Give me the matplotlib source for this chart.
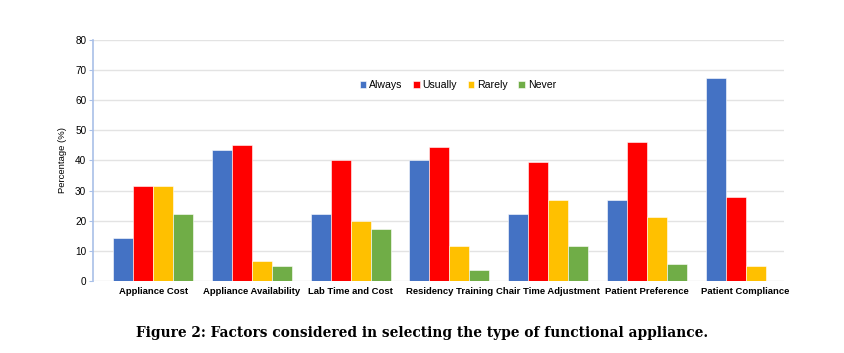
import matplotlib
matplotlib.use("Agg")
import matplotlib.pyplot as plt
import numpy as np

categories = ["Appliance Cost", "Appliance Availability", "Lab Time and Cost",
              "Residency Training", "Chair Time Adjustment", "Patient Preference",
              "Patient Compliance"]
always = [14.3, 43.5, 22.2, 40.3, 22.2, 26.9, 67.5]
usually = [31.5, 45.2, 40.3, 44.4, 39.4, 46.2, 27.9]
rarely = [31.5, 6.6, 20.0, 11.5, 26.9, 21.2, 4.9]
never = [22.2, 4.9, 17.3, 3.5, 11.5, 5.7, 0.0]
series_names = ["Always", "Usually", "Rarely", "Never"]
yticks = [0, 10, 20, 30, 40, 50, 60, 70, 80]

colors = ["#4472C4", "#FF0000", "#FFC000", "#70AD47"]
plt.rcParams['font.family'] = ['Liberation Sans', 'DejaVu Sans']

fig = plt.figure(figsize=(8.44, 3.53), dpi=100)
ax = fig.add_axes([0.1105, 0.204, 0.8185, 0.683])

x = np.arange(len(categories))
w = 0.2027
data = [always, usually, rarely, never]
for i, (vals, name, c) in enumerate(zip(data, series_names, colors)):
    ax.bar(x + (i - 1.5) * w, vals, width=w, color=c, label=name,
           edgecolor="white", linewidth=0.4, zorder=3)

ax.set_xlim(-0.608, 6.39)
ax.set_ylim(0, 80)
ax.set_yticks(yticks)
ax.yaxis.grid(True, color="#e3e3e3", linewidth=1.0, zorder=0)
ax.set_axisbelow(True)
for s in ["top", "right", "bottom"]:
    ax.spines[s].set_visible(False)
ax.spines["left"].set_color("#a9c0e8")
ax.spines["left"].set_linewidth(1.2)
ax.tick_params(axis="y", length=3, color="#a9c0e8", labelsize=7.2, pad=2)
ax.tick_params(axis="x", length=0, labelsize=6.8, pad=4)
ax.set_xticks(x)
ax.set_xticklabels(categories, fontweight="bold")
ax.set_ylabel("Percentage (%)", fontsize=6.8, labelpad=6)

leg = ax.legend(loc="upper center", bbox_to_anchor=(0.528, 0.872), ncol=4,
                frameon=False, fontsize=7.6, handlelength=0.6, handleheight=0.6,
                handletextpad=0.3, columnspacing=1.0)

fig.text(0.5, 0.057, "Figure 2: Factors considered in selecting the type of functional appliance.",
         ha="center", va="center", fontsize=9.9, fontweight="bold",
         family=["DejaVu Serif"])

fig.savefig("out.png", dpi=100)
